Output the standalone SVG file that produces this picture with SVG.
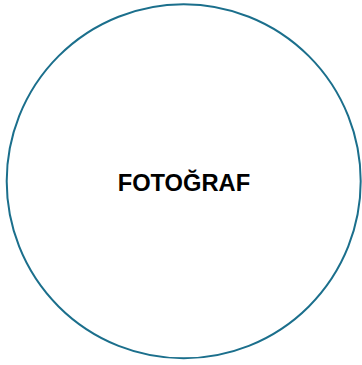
<svg xmlns="http://www.w3.org/2000/svg" width="362" height="365" viewBox="0 0 362 365">
<style>
.node{fill:#ffffff;stroke:#1b6f8c;stroke-width:2}
.label{font-family:"Liberation Sans",Arial,Helvetica,sans-serif;font-weight:bold;font-size:23.7px;fill:#000000}
</style>
<rect width="362" height="365" fill="#ffffff"/>
<g id="connectors"></g>
<g id="node-fotograf">
<circle class="node" cx="183.7" cy="181.3" r="177"/>
<text class="label" x="183.9" y="190.7" text-anchor="middle">FOTOĞRAF</text>
</g>
</svg>
